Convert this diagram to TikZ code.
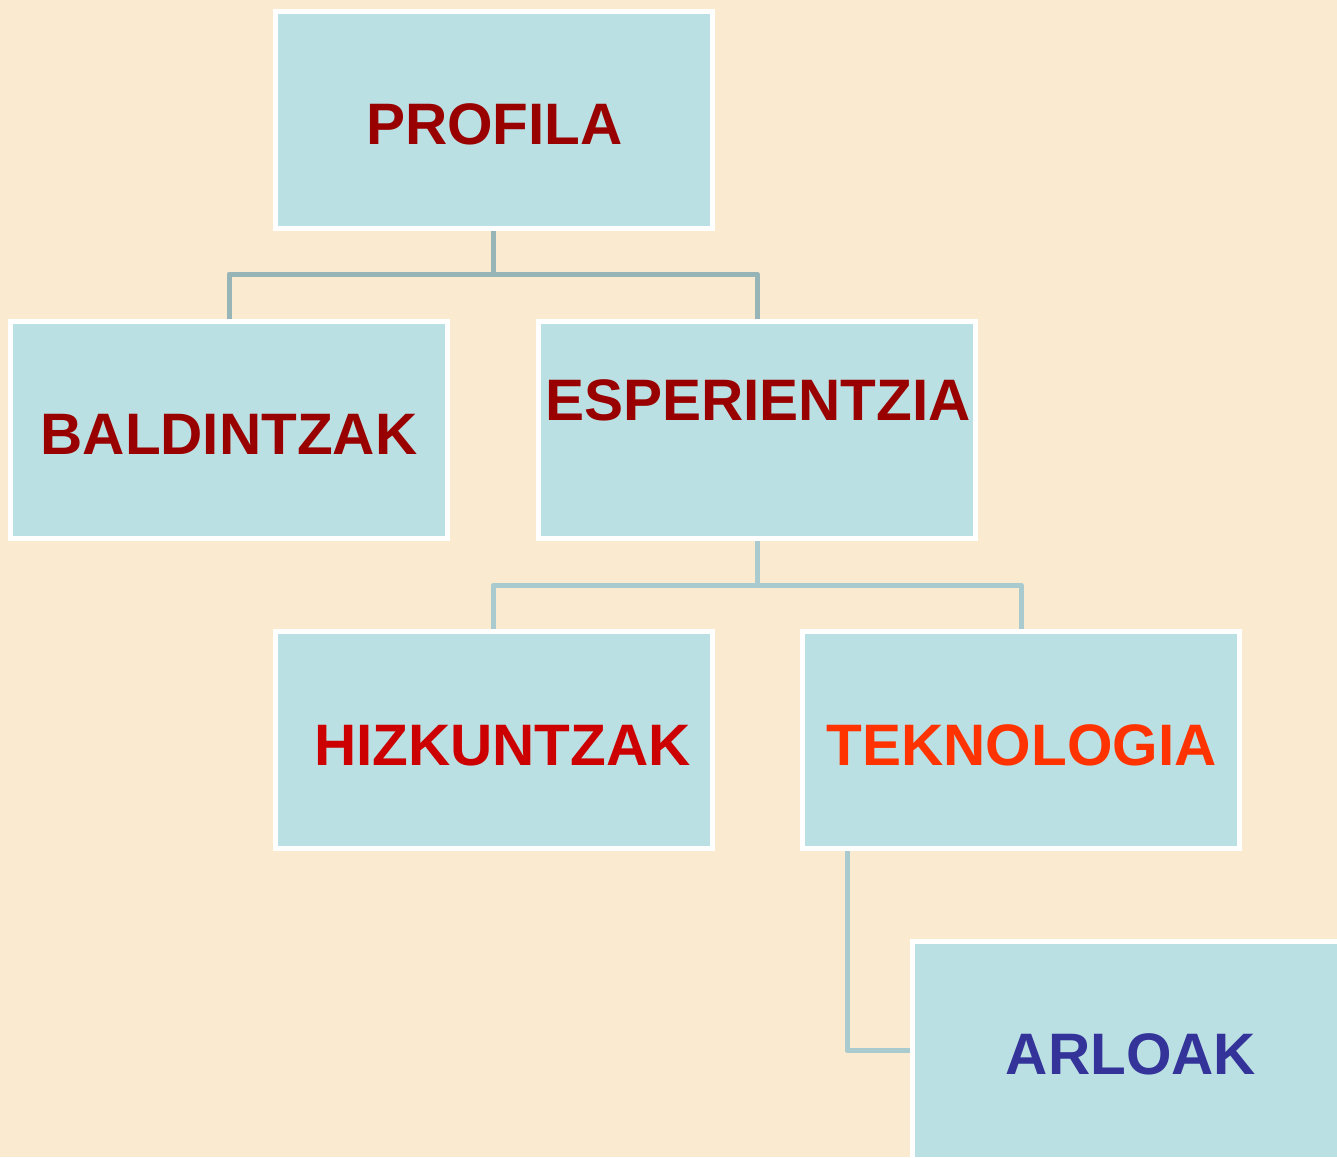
\documentclass[tikz,border=0pt]{standalone}
\usepackage{fontspec}
\setmainfont{Liberation Sans}
\usetikzlibrary{backgrounds}
\definecolor{bgc}{HTML}{FAEBD0}
\definecolor{boxfill}{HTML}{BBE0E3}
\definecolor{lineA}{HTML}{97B5B7}
\definecolor{lineB}{HTML}{A9CBCF}
\definecolor{darkred}{HTML}{990000}
\definecolor{midred}{HTML}{CC0000}
\definecolor{orred}{HTML}{FF3300}
\definecolor{navy}{HTML}{333399}
\tikzset{
  box/.style={rectangle, draw=white, fill=boxfill, line width=5pt,
    minimum width=437pt, minimum height=217.5pt, inner sep=0pt, outer sep=0pt},
  lab/.style={anchor=base, inner sep=0pt, outer sep=0pt,
    font=\fontsize{58.5}{70}\selectfont\bfseries},
  conn/.style={line width=5pt, line join=round}
}
\begin{document}
\begin{tikzpicture}[x=1pt,y=-1pt]
\clip (0,0) rectangle (1337,1157);
\useasboundingbox (0,0) rectangle (1337,1157);
\node[box] (prof) at (493.5,120) {};
\node[box] (bald) at (229,430) {};
\node[box] (esp) at (757,430) {};
\node[box] (hiz) at (493.5,740) {};
\node[box] (tek) at (1021,740) {};
\node[box, anchor=north west] (arl) at (912.5,941.5) {};
\node[lab, text=darkred] (tprof) at (494.5,144) {PROFILA};
\node[lab, text=darkred] (tbald) at (229,454) {BALDINTZAK};
\node[lab, text=darkred] (tesp) at (758,420) {ESPERIENTZIA};
\node[lab, text=midred] (thiz) at (502.5,765) {HIZKUNTZAK};
\node[lab, text=orred] (ttek) at (1021.5,765) {TEKNOLOGIA};
\node[lab, text=navy] (tarl) at (1131,1074) {ARLOAK};
\coordinate (j1) at (493.5,274);
\coordinate (j2) at (757,585);
\coordinate (j3) at (847,1050);
\begin{scope}[on background layer]
\fill[bgc] (0,0) rectangle (1337,1157);
\draw[conn, draw=lineA] (prof.south) -- (j1);
\draw[conn, draw=lineA] (bald.north) |- (j1) -| (esp.north);
\draw[conn, draw=lineB] (esp.south) -- (j2);
\draw[conn, draw=lineB] (hiz.north) |- (j2) -| (tek.north);
\draw[conn, draw=lineB] (tek.south -| j3) -- (j3) -- (arl.west |- j3);
\end{scope}
\end{tikzpicture}
\end{document}
